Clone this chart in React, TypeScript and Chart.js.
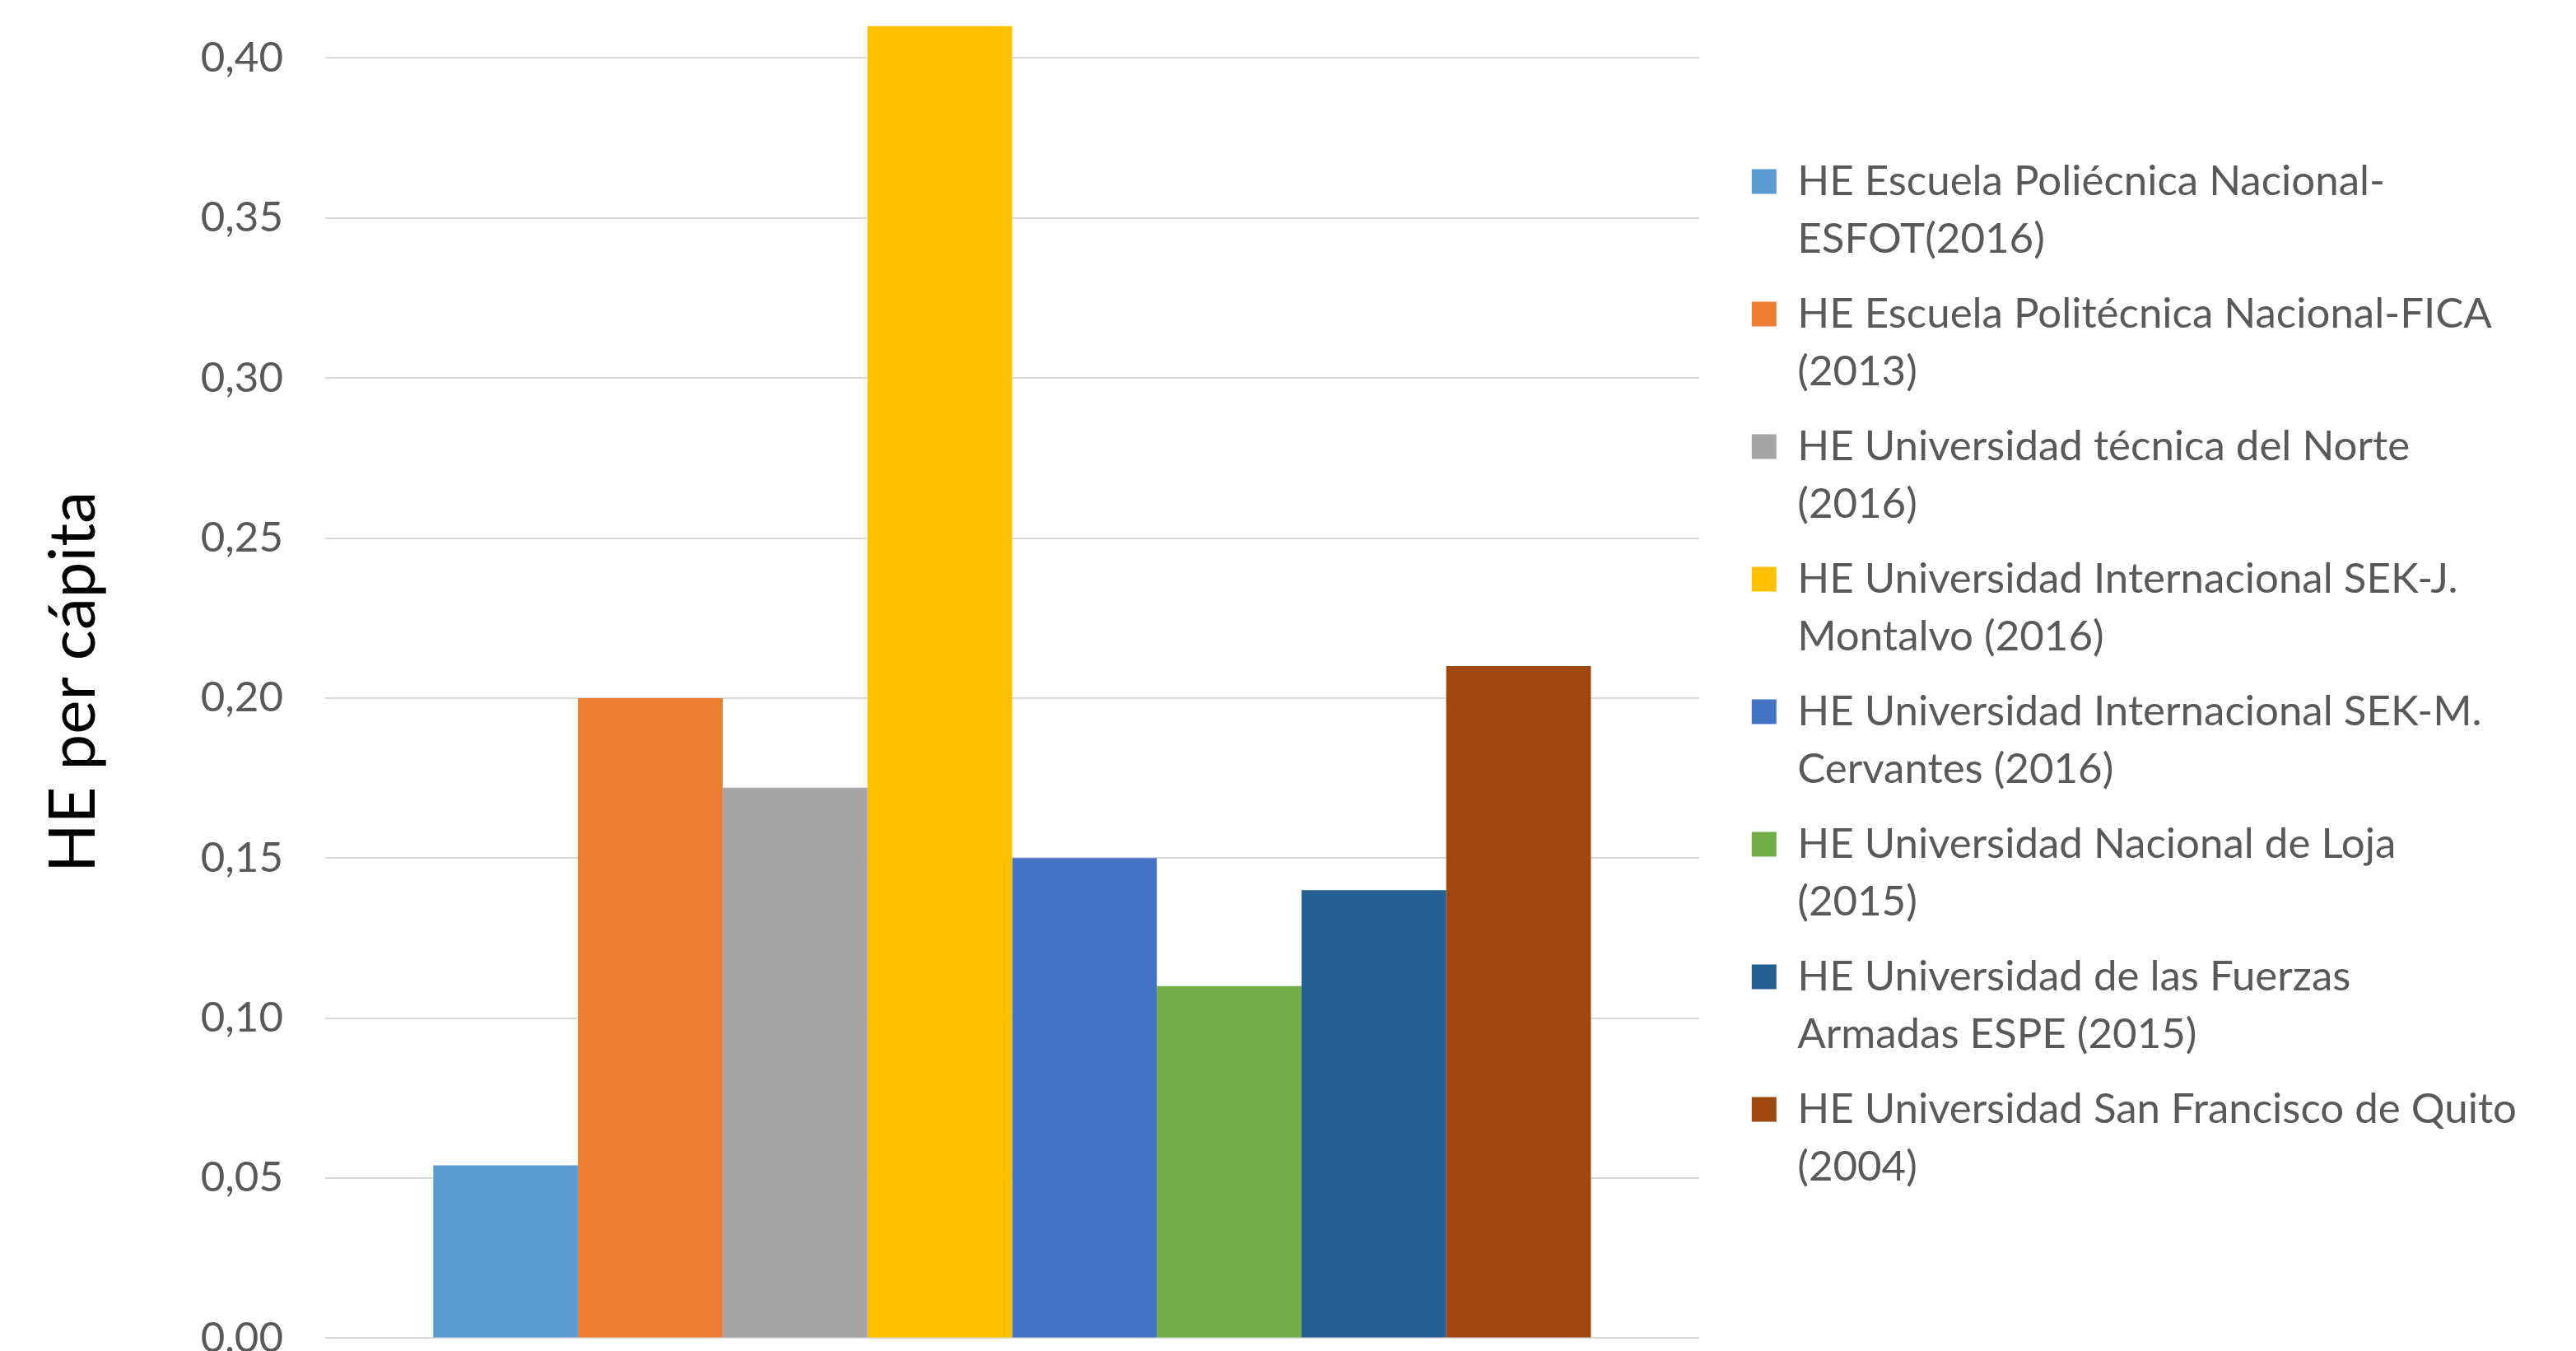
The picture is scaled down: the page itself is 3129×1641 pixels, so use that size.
import { useEffect, useRef } from 'react';
import { Chart, registerables } from 'chart.js';

Chart.register(...registerables);

// data
const categories = [''];
const seriesLines = [
    ['HE Escuela Poliécnica Nacional-', 'ESFOT(2016)'],
    ['HE Escuela Politécnica Nacional-FICA', '(2013)'],
    ['HE Universidad técnica del Norte', '(2016)'],
    ['HE Universidad Internacional SEK-J.', 'Montalvo (2016)'],
    ['HE Universidad Internacional SEK-M.', 'Cervantes (2016)'],
    ['HE Universidad Nacional de Loja', '(2015)'],
    ['HE Universidad de las Fuerzas', 'Armadas ESPE (2015)'],
    ['HE Universidad San Francisco de Quito', '(2004)'],
];
const seriesValues = [0.054, 0.2, 0.172, 0.41, 0.15, 0.11, 0.14, 0.21];
const seriesColors = ['#5B9BD5', '#ED7D31', '#A5A5A5', '#FFC000', '#4472C4', '#70AD47', '#255E91', '#9E480E'];
const yTitle = 'HE per cápita';

export default function App() {
    const chartRef = useRef<HTMLCanvasElement | null>(null);
    const chartInstance = useRef<Chart | null>(null);

    useEffect(() => {
        document.body.style.margin = '0';
        document.body.style.overflow = 'hidden';
        const ctx = chartRef.current?.getContext('2d');
        if (!ctx) return;
        if (chartInstance.current) chartInstance.current.destroy();

        chartInstance.current = new Chart(ctx, {
            type: 'bar',
            data: {
                labels: categories,
                datasets: seriesLines.map((lines, i) => ({
                    label: lines.join(' '),
                    data: [seriesValues[i]],
                    backgroundColor: seriesColors[i],
                    borderWidth: 0,
                    categoryPercentage: 0.8426,
                    barPercentage: 1,
                })),
            },
            options: {
                animation: false,
                responsive: true,
                maintainAspectRatio: false,
                layout: { padding: { top: 0, right: 62, bottom: 0, left: 0 } },
                scales: {
                    x: { display: false },
                    y: {
                        min: 0,
                        max: 0.41,
                        border: { display: false },
                        grid: {
                            color: '#D9D9D9',
                            lineWidth: 2,
                            drawTicks: true,
                            tickLength: 50,
                            tickColor: 'rgba(0,0,0,0)',
                        },
                        ticks: {
                            stepSize: 0.05,
                            includeBounds: false,
                            padding: 1,
                            color: '#595959',
                            font: { family: 'Lato', size: 51 },
                            callback: (v) => Number(v).toFixed(2).replace('.', ','),
                        },
                        title: {
                            display: true,
                            text: yTitle,
                            color: '#000000',
                            font: { family: 'Lato', size: 78 },
                            padding: { top: 43, bottom: 0 },
                        },
                        afterFit: (s) => {
                            s.width = 395;
                        },
                    },
                    spacer: {
                        type: 'linear',
                        position: 'right',
                        display: true,
                        border: { display: false },
                        grid: { display: false },
                        ticks: { display: false },
                        afterFit: (s) => {
                            s.width = 43;
                        },
                    },
                },
                plugins: {
                    legend: {
                        position: 'right',
                        align: 'center',
                        maxWidth: 1200,
                        labels: {
                            boxWidth: 30,
                            boxHeight: 30,
                            padding: 21,
                            color: '#595959',
                            font: { family: 'Lato', size: 51, lineHeight: 70 / 51 },
                            generateLabels: (chart) =>
                                chart.data.datasets.map((ds, i) => ({
                                    text: seriesLines[i] as any,
                                    fillStyle: seriesColors[i],
                                    strokeStyle: seriesColors[i],
                                    lineWidth: 0,
                                    hidden: false,
                                    datasetIndex: i,
                                    fontColor: '#595959',
                                })),
                        },
                    },
                    tooltip: { enabled: false },
                },
            },
        });

        return () => {
            if (chartInstance.current) {
                chartInstance.current.destroy();
                chartInstance.current = null;
            }
        };
    }, []);

    return (
        <div style={{ position: 'relative', width: 3129, height: 1657, background: '#fff' }}>
            <canvas ref={chartRef}></canvas>
        </div>
    );
}
